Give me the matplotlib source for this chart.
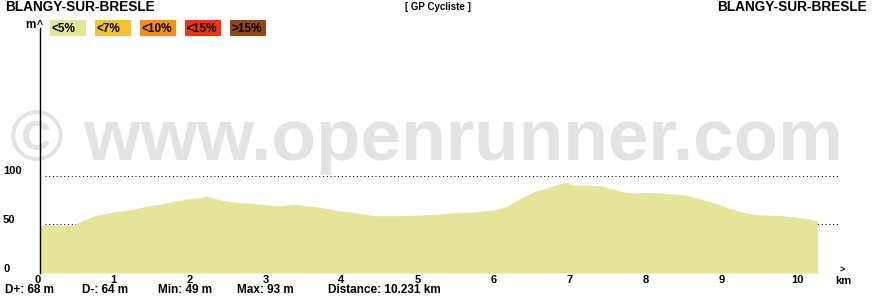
import matplotlib
matplotlib.use('Agg')
import matplotlib.pyplot as plt
from matplotlib.patches import Rectangle
import matplotlib.transforms as mtransforms

# ---------------- data ----------------
distance_km = [0.00, 0.43, 0.53, 0.70, 0.88, 1.05, 1.23, 1.41, 1.58, 1.75, 1.94, 2.11,
               2.20, 2.28, 2.46, 2.64, 2.81, 2.99, 3.16, 3.33, 3.52, 3.69, 3.86, 4.04,
               4.22, 4.39, 4.74, 5.01, 5.27, 5.44, 5.70, 5.97, 6.15, 6.32, 6.50, 6.68,
               6.85, 6.94, 7.02, 7.21, 7.39, 7.54, 7.65, 7.82, 8.00, 8.17, 8.34, 8.52,
               8.70, 8.87, 9.05, 9.22, 9.39, 9.57, 9.75, 9.92, 10.10, 10.231]
elevation_m = [49.0, 49.0, 52.7, 58.5, 61.3, 63.7, 65.4, 68.8, 70.5, 73.6, 76.0, 77.3,
               79.0, 77.0, 73.6, 72.2, 71.5, 69.8, 69.0, 70.5, 69.0, 67.4, 64.7, 63.0,
               61.3, 58.9, 58.9, 59.5, 60.6, 61.9, 62.6, 64.7, 68.8, 76.7, 83.5, 87.6,
               92.0, 93.0, 90.3, 90.3, 89.5, 86.0, 83.5, 82.1, 82.8, 82.1, 81.1, 79.7,
               75.6, 72.2, 67.0, 63.0, 60.2, 59.5, 58.9, 57.8, 55.7, 53.4]
grade_labels = ['<5%', '<7%', '<10%', '<15%', '>15%']
grade_colors = ['#e5e59a', '#f4c232', '#f49012', '#ee3510', '#964616']
y_grid = [0, 50, 100]
x_ticks = list(range(11))
stats_labels = ['D+: 68 m', 'D-: 64 m', 'Min: 49 m', 'Max: 93 m', 'Distance: 10.231 km']
start_name = 'BLANGY-SUR-BRESLE'
end_name = 'BLANGY-SUR-BRESLE'
title_text = '[ GP Cycliste ]'
watermark = '\u00a9 www.openrunner.com'

# ---------------- layout ----------------
plt.rcParams['font.family'] = ['Liberation Sans', 'DejaVu Sans']
W, H = 880, 300
fig = plt.figure(figsize=(W / 100, H / 100), dpi=100)
fig.patch.set_facecolor('white')


def fx(px):
    return px / W


def fy(py):
    return 1 - py / H


PX_PER_KM = 76.0
PX_PER_M = 0.974
X0, Y0, YTOP = 40, 273, 20

ax = fig.add_axes([fx(X0), fy(Y0), 800 / W, (Y0 - YTOP) / H])
ax.set_xlim(0, 800 / PX_PER_KM)
ax.set_ylim(0, (Y0 - YTOP) / PX_PER_M)
ax.patch.set_visible(False)
for s in ['top', 'right', 'bottom']:
    ax.spines[s].set_visible(False)
ax.spines['left'].set_linewidth(1.0)
ax.spines['left'].set_color('black')
ax.spines['left'].set_bounds(0, (Y0 - 28) / PX_PER_M)
ax.spines['left'].set_zorder(5)
ax.set_xticks([])
ax.set_yticks([])

# watermark (behind everything)
fig.text(fx(10), fy(160), watermark, fontsize=52.5, fontweight='bold',
         color='#e3e3e3', ha='left', va='baseline', zorder=-5)

# dotted grid lines
for v in y_grid:
    ax.axhline(v, xmin=5 / 800, xmax=1, color='black', lw=0.75,
               ls=(0, (1, 2.6)), zorder=1)

# profile
ax.fill_between(distance_km, elevation_m, 0, color=grade_colors[0], lw=0, zorder=2)

# x tick labels
off = mtransforms.ScaledTranslation(-2.5 / 100, -2 / 100, fig.dpi_scale_trans)
for k in x_ticks:
    ax.text(k, 0, str(k), transform=ax.get_xaxis_transform() + off,
            ha='center', va='top', fontsize=8, fontweight='bold', color='black')

# y tick labels
ytr = mtransforms.blended_transform_factory(fig.transFigure, ax.transData)
yoff = mtransforms.ScaledTranslation(0, 4.5 / 100, fig.dpi_scale_trans)
for v in y_grid:
    ax.text(fx(3), v, str(v), transform=ytr + yoff, ha='left', va='center',
            fontsize=8, fontweight='bold', color='black')

# axis unit labels
fig.text(fx(25), fy(24.5), 'm', ha='left', va='center', fontsize=8.5,
         fontweight='bold')
fig.text(fx(40), fy(20), '^', ha='center', va='top', fontsize=7.5,
         fontweight='bold')
fig.text(fx(835), fy(281.5), 'km', ha='left', va='center', fontsize=8,
         fontweight='bold')
fig.text(fx(842.5), fy(270), '>', ha='center', va='center', fontsize=6.5,
         fontweight='bold')

# header
fig.text(fx(5), fy(7), start_name, ha='left', va='center', fontsize=9.8,
         fontweight='bold')
fig.text(fx(867), fy(7), end_name, ha='right', va='center', fontsize=9.8,
         fontweight='bold')
fig.text(fx(437.5), fy(6.5), title_text, ha='center', va='center', fontsize=7,
         fontweight='bold')

# grade legend
for i, (lab, col) in enumerate(zip(grade_labels, grade_colors)):
    left = 50 + 45 * i
    fig.add_artist(Rectangle((fx(left), fy(36)), 36 / W, 16 / H,
                             transform=fig.transFigure, facecolor=col,
                             edgecolor='none'))
    fig.text(fx(left + 1.5), fy(28.5), lab, ha='left', va='center', fontsize=8.5,
             fontweight='bold', color='black')

# statistics line
stats_x = [5, 82, 158, 237, 328]
for sx, lab in zip(stats_x, stats_labels):
    fig.text(fx(sx), fy(290), lab, ha='left', va='center', fontsize=8.5,
             fontweight='bold', color='black')

fig.savefig('out.png', dpi=100, facecolor='white')
